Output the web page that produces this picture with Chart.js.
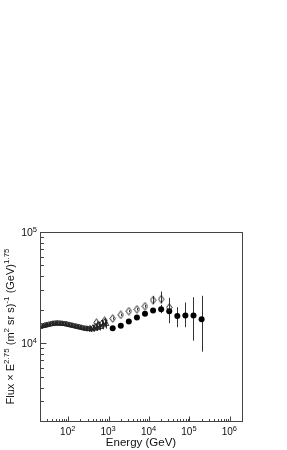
<!DOCTYPE html>
<html><head><meta charset="utf-8">
<script src="https://cdn.jsdelivr.net/npm/chart.js@4.4.1/dist/chart.umd.min.js"></script>
<style>html,body{margin:0;padding:0;background:#fff;}#wrap{width:287px;height:450px;}</style>
</head><body><div id="wrap"><canvas id="c" width="287" height="450"></canvas></div>
<script>
// ---- data ----
const triEnergy = [20,22,24,26,28,30,33,36,39,42,46,50,54,59,64,70,76,83,90,98,107,116,126,137,149,162,176,192,209,227,247,269,292,318,346,376,409,445,484,527,573,623,678,738,803,874];
const triFlux   = [14000,14200,14300,14400,14500,14600,14700,14800,14900,15000,15000,15100,15100,15100,15000,15000,14900,14900,14800,14700,14600,14500,14400,14300,14200,14100,14000,13900,13800,13700,13600,13500,13500,13400,13600,13300,13800,13500,14200,13700,14600,14000,15200,14500,15600,14900];
const triErrPct = [4,4,4,4,4,4,4,4,4,4,4,4,4,4,4,4,4,4,4,4,4,4,4,4,4,4,4,4,4,4,4,5,5,5,5,5,6,6,6,6,7,7,7,8,8,9];

const diaEnergy = [501,794,1260,2000,3160,5010,7940,12600,19950,31600];
const diaFlux   = [15300,15900,16680,17990,19410,20180,21480,24400,24900,20940];
const diaLow    = [14900,15500,16300,17600,19000,19700,20900,22600,22900,17000];
const diaHigh   = [15700,16300,17100,18400,19800,20700,22100,26700,29200,25500];

const circEnergy = [1260,2000,3160,5010,7940,12600,19950,31600,50100,79400,126000,200000];
const circFlux   = [13650,14330,15650,17030,18370,19670,20240,19400,17620,17740,17740,16450];
const circLow    = [13400,14050,15300,16600,17850,19000,18620,15140,13930,13930,10550,8400];
const circHigh   = [13900,14600,16000,17450,18900,20350,22130,25580,21090,23220,25950,26670];

const xMajorTicks = [100,1000,10000,100000,1000000];
const xTickExp = ['2','3','4','5','6'];
const yMajorTicks = [10000,100000];
const yTickExp = ['4','5'];
const xTitle = 'Energy (GeV)';
const yTitleParts = [['Flux × E',0],['2.75',1],[' (m',0],['2',1],[' sr s)',0],['-1',1],[' (GeV)',0],['1.75',1]];

const X_MIN = 20, X_MAX = 2e6, Y_MIN = 2000, Y_MAX = 1e5;

// minor tick positions (axis structure)
const xMinorTicks = [], yMinorTicks = [];
for (let d = 10; d <= 1e6; d *= 10) for (let m = 2; m <= 9; m++) { const v = m*d; if (v >= X_MIN && v <= X_MAX) xMinorTicks.push(v); }
for (let d = 1000; d <= 1e5; d *= 10) for (let m = 2; m <= 9; m++) { const v = m*d; if (v >= Y_MIN && v <= Y_MAX) yMinorTicks.push(v); }

// ---- markers ----
function diamondImg() {
  const c = document.createElement('canvas'); c.width = 7; c.height = 9;
  const g = c.getContext('2d');
  g.strokeStyle = '#222'; g.lineWidth = 1;
  g.beginPath(); g.moveTo(3.5,0.7); g.lineTo(6.2,4.5); g.lineTo(3.5,8.3); g.lineTo(0.8,4.5); g.closePath(); g.stroke();
  return c;
}

function pts(xs, ys) { return xs.map((x,i)=>({x:x, y:ys[i]})); }

const FONT = '"Liberation Sans", Arial, Helvetica, sans-serif';

function drawRich(ctx, parts, x, y, big, small, rise, align) {
  let w = 0;
  parts.forEach(p => { ctx.font = (p[1] ? small : big) + 'px ' + FONT; w += ctx.measureText(p[0]).width; });
  let cx = align === 'center' ? x - w/2 : (align === 'right' ? x - w : x);
  ctx.textAlign = 'left'; ctx.textBaseline = 'alphabetic';
  parts.forEach(p => {
    ctx.font = (p[1] ? small : big) + 'px ' + FONT;
    ctx.fillText(p[0], cx, y - (p[1] ? rise : 0));
    cx += ctx.measureText(p[0]).width;
  });
}

const errorBars = {
  id: 'errorBars',
  beforeDatasetsDraw(chart) {
    const ctx = chart.ctx, xs = chart.scales.x, ys = chart.scales.y;
    ctx.save();
    ctx.strokeStyle = '#333'; ctx.lineWidth = 1;
    const draw = (E, lo, hi) => {
      E.forEach((e,i) => {
        const px = Math.round(xs.getPixelForValue(e)) + 0.5;
        ctx.beginPath(); ctx.moveTo(px, ys.getPixelForValue(lo[i])); ctx.lineTo(px, ys.getPixelForValue(hi[i])); ctx.stroke();
      });
    };
    draw(triEnergy, triFlux.map((f,i)=>f*(1-triErrPct[i]/100)), triFlux.map((f,i)=>f*(1+triErrPct[i]/100)));
    draw(diaEnergy, diaLow, diaHigh);
    draw(circEnergy, circLow, circHigh);
    ctx.restore();
  }
};

const frame = {
  id: 'frame',
  afterDraw(chart) {
    const ctx = chart.ctx, a = chart.chartArea, xs = chart.scales.x, ys = chart.scales.y;
    ctx.save();
    ctx.strokeStyle = '#444'; ctx.lineWidth = 1;
    const L = Math.round(a.left)+0.5, R = Math.round(a.right)+0.5, T = Math.round(a.top)+0.5, B = Math.round(a.bottom)+0.5;
    ctx.strokeRect(L, T, R-L, B-T);
    ctx.beginPath();
    xMajorTicks.forEach(v => { const p = Math.round(xs.getPixelForValue(v))+0.5; ctx.moveTo(p,B); ctx.lineTo(p,B-5); });
    xMinorTicks.forEach(v => { const p = Math.round(xs.getPixelForValue(v))+0.5; ctx.moveTo(p,B); ctx.lineTo(p,B-2.5); });
    yMajorTicks.forEach(v => { const p = Math.round(ys.getPixelForValue(v))+0.5; ctx.moveTo(L,p); ctx.lineTo(L+6,p); });
    yMinorTicks.forEach(v => { const p = Math.round(ys.getPixelForValue(v))+0.5; ctx.moveTo(L,p); ctx.lineTo(L+3.5,p); });
    ctx.stroke();
    ctx.fillStyle = '#111';
    xMajorTicks.forEach((v,i) => { drawRich(ctx, [['10',0],[xTickExp[i],1]], xs.getPixelForValue(v) - 0.5, 435, 10, 7.5, 4, 'center'); });
    yMajorTicks.forEach((v,i) => { drawRich(ctx, [['10',0],[yTickExp[i],1]], 37, ys.getPixelForValue(v) + 3.5, 10.5, 7.5, 4, 'right'); });
    ctx.font = '11.5px ' + FONT; ctx.textAlign = 'center'; ctx.textBaseline = 'alphabetic';
    ctx.fillText(xTitle, (a.left + a.right)/2, 445.5);
    ctx.save();
    ctx.translate(13.5, (a.top + a.bottom)/2);
    ctx.rotate(-Math.PI/2);
    drawRich(ctx, yTitleParts, 0, 0, 11, 8, 4.5, 'center');
    ctx.restore();
    ctx.restore();
  }
};

new Chart(document.getElementById('c'), {
  type: 'scatter',
  data: {
    datasets: [
      { label: 'tri', data: pts(triEnergy, triFlux), pointStyle: 'triangle', radius: 3, borderWidth: 0.9, borderColor: '#222', backgroundColor: 'rgba(255,255,255,0)' },
      { label: 'dia', data: pts(diaEnergy, diaFlux), pointStyle: diamondImg(), radius: 3 },
      { label: 'circ', data: pts(circEnergy, circFlux), pointStyle: 'circle', radius: 3, borderWidth: 0, backgroundColor: '#000', borderColor: '#000' }
    ]
  },
  options: {
    responsive: false, animation: false, devicePixelRatio: 1,
    layout: { padding: { left: 40, right: 45, top: 232, bottom: 29 } },
    plugins: { legend: { display: false }, tooltip: { enabled: false } },
    scales: {
      x: { type: 'logarithmic', min: X_MIN, max: X_MAX, display: false },
      y: { type: 'logarithmic', min: Y_MIN, max: Y_MAX, display: false }
    }
  },
  plugins: [errorBars, frame]
});
</script></body></html>
